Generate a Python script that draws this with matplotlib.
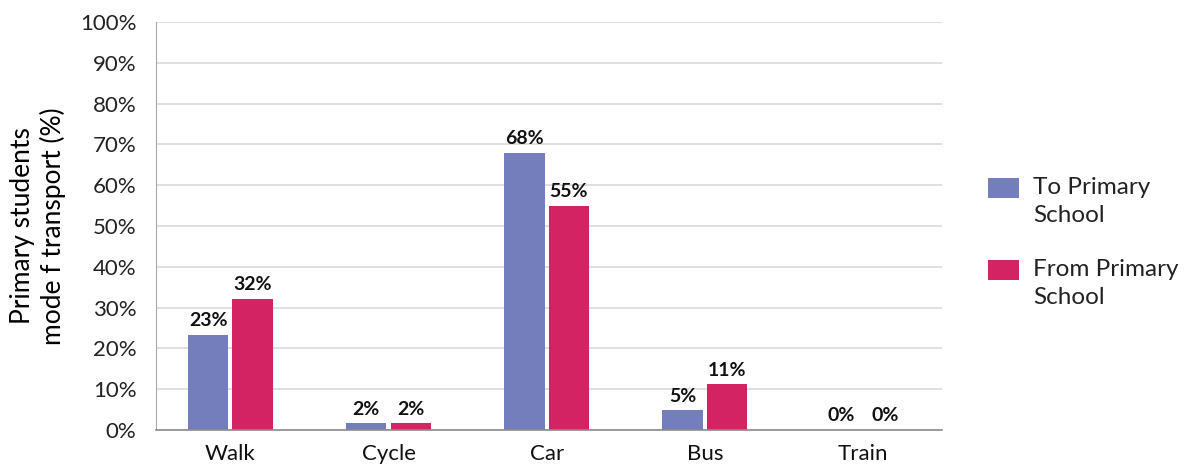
import matplotlib.pyplot as plt
from matplotlib.patches import Rectangle
import numpy as np

plt.rcParams['font.family'] = ['Lato', 'DejaVu Sans']

modlar = ["Walk", "Cycle", "Car", "Bus", "Train"]
okula_gidis = [23.4, 1.7, 68, 4.8, 0]
okuldan_donus = [32.2, 1.6, 55, 11.2, 0]
seri_adlari = ["To Primary\nSchool", "From Primary\nSchool"]
renkler = ["#747ebc", "#d42362"]

fig = plt.figure(figsize=(11.84, 4.67), dpi=100)
ax = fig.add_axes([0.1318, 0.0792, 0.6638, 0.8737])

x = np.arange(len(modlar))
w = 0.255
b1 = ax.bar(x - w / 2 - 0.013, okula_gidis, w, color=renkler[0], label=seri_adlari[0])
b2 = ax.bar(x + w / 2 + 0.013, okuldan_donus, w, color=renkler[1], label=seri_adlari[1])

# deger etiketleri
for bars, vals in ((b1, okula_gidis), (b2, okuldan_donus)):
    for r, v in zip(bars, vals):
        ax.annotate(f"{v:.0f}%", (r.get_x() + r.get_width() / 2, v),
                    xytext=(0, 4), textcoords="offset points",
                    ha="center", va="bottom", fontsize=14, fontweight="bold",
                    color="#111111")

ax.set_ylim(0, 100)
ax.set_xlim(-0.47, 4.5)
ax.set_yticks(np.arange(0, 101, 10))
ax.set_yticklabels([f"{t}%" for t in range(0, 101, 10)], fontsize=16, color="#222222")
ax.set_xticks(x)
ax.set_xticklabels(modlar, fontsize=16, color="#111111")
ax.tick_params(length=0)
ax.tick_params(axis="y", pad=14)
ax.tick_params(axis="x", pad=10)
ax.yaxis.grid(True, color="#d9d9d9", linewidth=1.2)
ax.set_axisbelow(True)
for s in ("top", "right"):
    ax.spines[s].set_visible(False)
ax.spines["left"].set_color("#a6a6a6")
ax.spines["bottom"].set_color("#8c8c8c")
ax.spines["bottom"].set_linewidth(1.2)

ax.set_ylabel("Primary students\nmode f transport (%)", fontsize=19, labelpad=10,
              linespacing=1.25)

# lejant: kare ilk satirla hizali
lejant_y = [0.576, 0.4004]
for renk, ad, yy in zip(renkler, seri_adlari, lejant_y):
    fig.add_artist(Rectangle((0.8345, yy), 0.0262, 0.0428, transform=fig.transFigure,
                             facecolor=renk, edgecolor="none"))
    fig.text(0.8725, yy + 0.0428 + 0.002, ad, fontsize=17.5, color="#222222",
             va="top", ha="left", linespacing=1.38)

plt.savefig("out.png", dpi=100)
plt.close()
